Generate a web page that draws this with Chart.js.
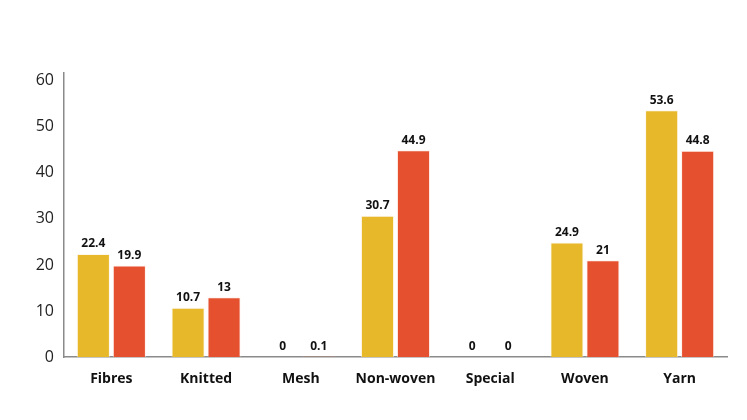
<!DOCTYPE html>
<html><head><meta charset="utf-8">
<script src="https://cdn.jsdelivr.net/npm/chart.js@4"></script>
<style>html,body{margin:0;padding:0;background:#fff}#wrap{width:747px;height:420px}</style>
</head><body><div id="wrap"><canvas id="c" width="747" height="420"></canvas></div>
<script>
const categories = ["Fibres","Knitted","Mesh","Non-woven","Special","Woven","Yarn"];
const seriesA = [22.4,10.7,0,30.7,0,24.9,53.6];
const seriesB = [19.9,13,0.1,44.9,0,21,44.8];
const yTicks = [0,10,20,30,40,50,60];

const labelPlugin = {
  id:'labels',
  afterDatasetsDraw(chart){
    const ctx = chart.ctx;
    ctx.save();
    ctx.font = 'bold 12px "Open Sans", sans-serif';
    ctx.fillStyle = '#111';
    ctx.textAlign = 'center';
    ctx.textBaseline = 'bottom';
    chart.data.datasets.forEach((ds,i)=>{
      chart.getDatasetMeta(i).data.forEach((bar,j)=>{
        ctx.fillText(String(ds.data[j]), bar.x, bar.y - 4);
      });
    });
    ctx.restore();
  }
};

new Chart(document.getElementById('c'),{
  type:'bar',
  data:{labels:categories,datasets:[
    {data:seriesA,backgroundColor:'#E7B829',borderColor:'rgba(255,240,220,0.6)',borderWidth:1},
    {data:seriesB,backgroundColor:'#E5502E',borderColor:'rgba(255,230,220,0.6)',borderWidth:1}
  ]},
  options:{
    responsive:false,animation:false,
    layout:{padding:{top:73,right:20,bottom:0,left:0}},
    datasets:{bar:{categoryPercentage:0.76,barPercentage:0.92}},
    plugins:{legend:{display:false},tooltip:{enabled:false}},
    scales:{
      x:{
        grid:{display:false,drawTicks:false},
        border:{display:true,color:'#8a8a8a',width:1.5},
        ticks:{color:'#111',font:{family:'"Open Sans", sans-serif',size:14,weight:'bold'},padding:14},
        afterFit(s){s.height=63;}
      },
      y:{
        min:0,max:61.7,
        grid:{display:false,drawTicks:false},
        border:{display:true,color:'#8a8a8a',width:1.5},
        afterBuildTicks(s){s.ticks = yTicks.map(v=>({value:v}));},
        ticks:{color:'#222',font:{family:'"Open Sans", sans-serif',size:16},padding:10},
        afterFit(s){s.width=64;}
      }
    }
  },
  plugins:[labelPlugin]
});
</script></body></html>
